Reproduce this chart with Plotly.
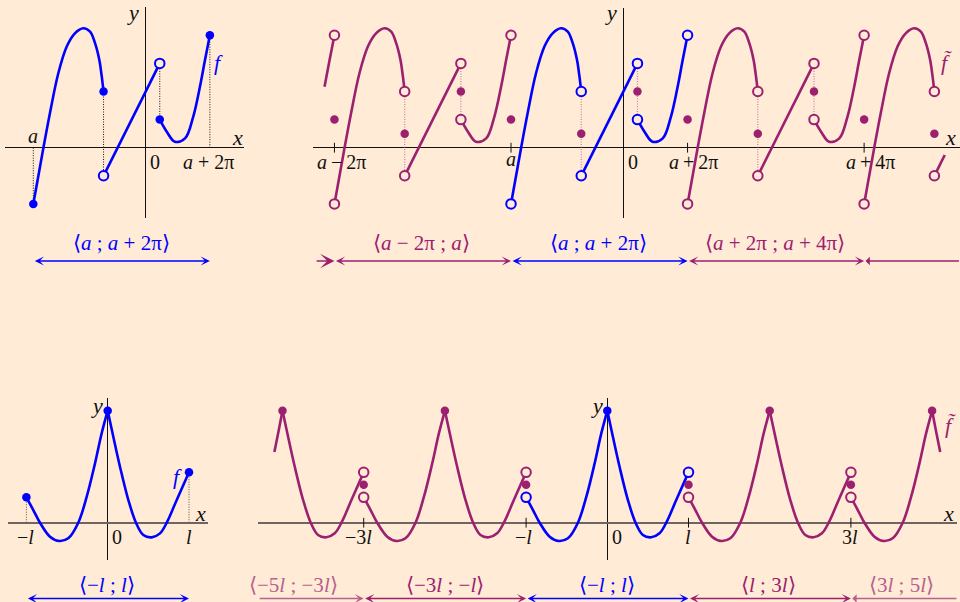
import numpy as np
import plotly.graph_objects as go

W, H = 960, 602
BG = "#FFEBD6"
BLUE = "#0000FF"
PURPLE = "#9C2070"
PURPLE_LIGHT = "#B8608F"
PURPLE_DOT = "#C77FA5"
BLACK = "#111111"
GRAY_AXIS = "#6F6560"
FONT = "Liberation Serif"
TICK_SIZE = 20
LAB_SIZE = 21

# ---------------- data: top row, f on <a ; a+2pi> ----------------
A = -4.0
T_TOP = 2 * np.pi
f1_x = [-4.0, -3.64, -3.41, -3.11, -2.81, -2.52, -2.22, -1.98, -1.80, -1.65, -1.57, -1.5]
f1_y = [-2.0, 0.0, 1.22, 2.65, 3.60, 4.07, 4.25, 4.13, 3.71, 3.12, 2.58, 2.0]
f2_x = [-1.5, 0.5]
f2_y = [-1.0, 3.0]
f3_x = [0.5, 0.75, 1.04, 1.40, 1.69, 1.93, 2.11, A + T_TOP]
f3_y = [1.0, 0.57, 0.21, 0.33, 1.10, 2.17, 3.12, 4.0]
f3_tail_start = 5            # visible tail of the copy left of a-2pi
f2_tail_x = [-1.5, -1.13]    # visible part of the last copy (right edge)
f2_tail_y = [-1.0, -0.26]
jump_x = [A, -1.5, 0.5]
jump_left = [4.0, 2.0, 3.0]
jump_right = [-2.0, -1.0, 1.0]
jump_mid = [1.0, 0.5, 2.0]
top_ticks_k = [-1, 0, 1, 2]
top_tick_labels = ["<i>a</i>\u2009\u2212\u20092π", "<i>a</i>", "<i>a</i>\u2009+\u20092π", "<i>a</i>\u2009+\u20094π"]

# ---------------- data: bottom row, g on <-l ; l> (l = 1) ----------------
L = 1.0
T_BOT = 2 * L
g1_x = [-1.0, -0.915, -0.833, -0.71, -0.595, -0.485, -0.362, -0.258, -0.156, -0.074, 0.0]
g1_y = [0.312, 0.156, 0.0, -0.172, -0.225, -0.192, 0.0, 0.32, 0.73, 1.10, 1.378]
g2_x = [0.0, 0.069, 0.151, 0.254, 0.348, 0.438, 0.541, 0.643, 0.726, 0.849, 1.0]
g2_y = [1.378, 1.058, 0.689, 0.279, 0.0, -0.151, -0.18, -0.131, 0.0, 0.279, 0.62]
g1_tail_x = [-0.10, -0.05, 0.0]
g1_tail_y = [0.87, 1.12, 1.378]
g2_tail_x = [0.0, 0.05, 0.10]
g2_tail_y = [1.378, 1.12, 0.87]
g_mid = 0.466
bot_ticks_x = [-3.0, -1.0, 1.0, 3.0]

# ---------------- panels (pixel boxes, origin, scale) ----------------
panels = {
    "TL": dict(n="", box=(5, 244, 7, 218), origin=(145.7, 147.7), s=28.1, hcol=BLACK, hw=1.2),
    "TR": dict(n="2", box=(313, 960, 8, 218), origin=(623.4, 147.7), s=28.1, hcol=BLACK, hw=1.2),
    "BL": dict(n="3", box=(8, 208, 398, 560), origin=(107.7, 522.7), s=81.3, hcol=GRAY_AXIS, hw=2),
    "BR": dict(n="4", box=(258, 957, 398, 560), origin=(607.3, 522.7), s=81.2, hcol=GRAY_AXIS, hw=2),
}

fig = go.Figure()
layout = dict(width=W, height=H, margin=dict(l=0, r=0, t=0, b=0), paper_bgcolor=BG,
              plot_bgcolor="rgba(0,0,0,0)", showlegend=False, annotations=[])

for p in panels.values():
    x0, x1, y0, y1 = p["box"]
    ox, oy = p["origin"]
    s = p["s"]
    n = p["n"]
    layout["xaxis" + n] = dict(domain=[x0 / W, x1 / W], range=[(x0 - ox) / s, (x1 - ox) / s],
                               anchor="y" + n, showgrid=False, showticklabels=False, ticks="",
                               zeroline=True, zerolinecolor=BLACK, zerolinewidth=1.2, showline=False,
                               fixedrange=True)
    layout["yaxis" + n] = dict(domain=[1 - y1 / H, 1 - y0 / H], range=[(oy - y1) / s, (oy - y0) / s],
                               anchor="x" + n, showgrid=False, showticklabels=False, ticks="",
                               zeroline=True, zerolinecolor=p["hcol"], zerolinewidth=p["hw"], showline=False,
                               fixedrange=True)


def ax(key):
    n = panels[key]["n"]
    return dict(xaxis="x" + n, yaxis="y" + n)


def curve(key, xs, ys, color, shift=0.0, width=2.6):
    fig.add_trace(go.Scatter(x=[v + shift for v in xs], y=ys, mode="lines",
                             line=dict(color=color, width=width, shape="spline", smoothing=1.0),
                             hoverinfo="skip", **ax(key)))


def dotted(key, x, ya, yb, color, width=1.0):
    fig.add_trace(go.Scatter(x=[x, x], y=[ya, yb], mode="lines",
                             line=dict(color=color, width=width, dash="1px,1.5px"),
                             hoverinfo="skip", **ax(key)))


def ticks(key, xs):
    fig.add_trace(go.Scatter(x=xs, y=[0] * len(xs), mode="markers",
                             marker=dict(symbol="line-ns", size=7, color=BLACK,
                                         line=dict(color=BLACK, width=1)),
                             hoverinfo="skip", **ax(key)))


markers = []  # (key, x, y, color, filled)


def dot(key, x, y, color, filled):
    markers.append((key, x, y, color, filled))


# ---------------- top-left panel ----------------
curve("TL", f1_x, f1_y, BLUE)
curve("TL", f2_x, f2_y, BLUE)
curve("TL", f3_x, f3_y, BLUE)
dotted("TL", f1_x[0], 0, f1_y[0], BLACK)
dotted("TL", f2_x[0], f1_y[-1], f2_y[0], BLACK)
dotted("TL", f3_x[0], f2_y[-1], f3_y[0], BLACK)
dotted("TL", f3_x[-1], 0, f3_y[-1], BLACK)
dot("TL", f1_x[0], f1_y[0], BLUE, True)
dot("TL", f1_x[-1], f1_y[-1], BLUE, True)
dot("TL", f2_x[0], f2_y[0], BLUE, False)
dot("TL", f2_x[-1], f2_y[-1], BLUE, False)
dot("TL", f3_x[0], f3_y[0], BLUE, True)
dot("TL", f3_x[-1], f3_y[-1], BLUE, True)

# ---------------- top-right panel (periodic extension) ----------------
for k in [-1, 0, 1]:
    c = BLUE if k == 0 else PURPLE
    sh = k * T_TOP
    for px_, py_ in [(f1_x, f1_y), (f2_x, f2_y), (f3_x, f3_y)]:
        curve("TR", px_, py_, c, sh)
        dot("TR", px_[0] + sh, py_[0], c, False)
        dot("TR", px_[-1] + sh, py_[-1], c, False)
# left tail (copy k=-2)
sh = -2 * T_TOP
curve("TR", f3_x[f3_tail_start:], f3_y[f3_tail_start:], PURPLE, sh)
dot("TR", f3_x[-1] + sh, f3_y[-1], PURPLE, False)
# right part (copy k=2)
sh = 2 * T_TOP
curve("TR", f1_x, f1_y, PURPLE, sh)
dot("TR", f1_x[0] + sh, f1_y[0], PURPLE, False)
dot("TR", f1_x[-1] + sh, f1_y[-1], PURPLE, False)
curve("TR", f2_tail_x, f2_tail_y, PURPLE, sh)
dot("TR", f2_tail_x[0] + sh, f2_tail_y[0], PURPLE, False)
# dotted jumps and mean values
for k in [-1, 0, 1]:
    for j in [1, 2]:
        dotted("TR", jump_x[j] + k * T_TOP, jump_left[j], jump_right[j], PURPLE_DOT, 1.2)
for k in [-1, 0, 1, 2]:
    for j in range(3):
        if k == 2 and j == 2:
            continue
        dot("TR", jump_x[j] + k * T_TOP, jump_mid[j], PURPLE, True)
ticks("TR", [A + k * T_TOP for k in top_ticks_k])

# ---------------- bottom-left panel ----------------
curve("BL", g1_x, g1_y, BLUE)
curve("BL", g2_x, g2_y, BLUE)
dotted("BL", g1_x[0], 0, g1_y[0], "#555555")
dotted("BL", g2_x[-1], 0, g2_y[-1], "#555555")
dot("BL", g1_x[0], g1_y[0], BLUE, True)
dot("BL", g1_x[-1], g1_y[-1], BLUE, True)
dot("BL", g2_x[-1], g2_y[-1], BLUE, True)

# ---------------- bottom-right panel ----------------
for k in [-1, 0, 1]:
    c = BLUE if k == 0 else PURPLE
    sh = k * T_BOT
    curve("BR", g1_x, g1_y, c, sh)
    curve("BR", g2_x, g2_y, c, sh)
    dot("BR", g1_x[0] + sh, g1_y[0], c, False)
    dot("BR", g2_x[-1] + sh, g2_y[-1], c, False)
    dot("BR", g1_x[-1] + sh, g1_y[-1], c, True)
sh = -2 * T_BOT
curve("BR", g1_tail_x, g1_tail_y, PURPLE, sh)
curve("BR", g2_x, g2_y, PURPLE, sh)
dot("BR", g2_x[-1] + sh, g2_y[-1], PURPLE, False)
dot("BR", g2_x[0] + sh, g2_y[0], PURPLE, True)
sh = 2 * T_BOT
curve("BR", g1_x, g1_y, PURPLE, sh)
curve("BR", g2_tail_x, g2_tail_y, PURPLE, sh)
dot("BR", g1_x[0] + sh, g1_y[0], PURPLE, False)
dot("BR", g1_x[-1] + sh, g1_y[-1], PURPLE, True)
for xv in bot_ticks_x:
    dot("BR", xv, g_mid, PURPLE, True)
ticks("BR", bot_ticks_x)

# draw markers last (open first, then filled)
for filled in [False, True]:
    for key in panels:
        for c in [BLUE, PURPLE]:
            pts = [(m[1], m[2]) for m in markers if m[0] == key and m[3] == c and m[4] == filled]
            if not pts:
                continue
            if filled:
                mk = dict(symbol="circle", size=8.5, color=c, line=dict(width=0))
            else:
                mk = dict(symbol="circle", size=9.5, color=BG, line=dict(color=c, width=2))
            fig.add_trace(go.Scatter(x=[p[0] for p in pts], y=[p[1] for p in pts], mode="markers",
                                     marker=mk, hoverinfo="skip", **ax(key)))

ann = layout["annotations"]


def txt(s, px, py, color=BLACK, size=TICK_SIZE):
    ann.append(dict(text=s, x=px / W, y=1 - py / H, xref="paper", yref="paper", showarrow=False,
                    xanchor="center", yanchor="middle", font=dict(family=FONT, size=size, color=color)))


def arrow(key, xa, xb, py, color, side="end+start", size=1.1):
    n = panels[key]["n"]
    ann.append(dict(text="", x=xb, y=1 - py / H, xref="x" + n, yref="paper",
                    ax=xa, ay=0, axref="x" + n, ayref="pixel", showarrow=True,
                    arrowhead=3, arrowside=side, arrowsize=size, arrowwidth=1.4, arrowcolor=color,
                    standoff=0, startstandoff=0))


# ---- top texts ----
txt("<i>a</i>", 33, 136)
txt("0", 155, 162)
txt("<i>a</i> + 2π", 208, 162)
txt("<i>x</i>", 237, 137, size=22)
txt("<i>y</i>", 133, 13, size=22)
txt("<i>f</i>", 218, 62, BLUE, size=22)
txt("⟨<i>a</i> ; <i>a</i> + 2π⟩", 121, 243, BLUE, LAB_SIZE)
arrow("TL", A, A + T_TOP, 261, BLUE)

tick_px = [341, 510.7, 693.5, 870]
tick_py = [162, 159, 162, 162]
for lab, px_, py_ in zip(top_tick_labels, tick_px, tick_py):
    txt(lab, px_, py_)
txt("0", 633, 162)
txt("<i>x</i>", 950, 137, size=22)
txt("<i>y</i>", 611, 13, size=22)
txt("<i>f\u0303</i>", 946, 62, PURPLE, size=22)
txt("⟨<i>a</i> \u2212 2π ; <i>a</i>⟩", 421.7, 243, PURPLE, LAB_SIZE)
txt("⟨<i>a</i> ; <i>a</i> + 2π⟩", 598, 243, BLUE, LAB_SIZE)
txt("⟨<i>a</i> + 2π ; <i>a</i> + 4π⟩", 775, 243, PURPLE, LAB_SIZE)
top_outer_left, top_outer_right = -10.97, 11.94
arrow("TR", top_outer_left, A - T_TOP, 261, PURPLE, side="end", size=1.7)
arrow("TR", A - T_TOP, A, 261, PURPLE)
arrow("TR", A, A + T_TOP, 261, BLUE)
arrow("TR", A + T_TOP, A + 2 * T_TOP, 261, PURPLE)
arrow("TR", A + 2 * T_TOP, top_outer_right, 261, PURPLE, side="start", size=1.7)

# ---- bottom texts ----
txt("<i>y</i>", 96.7, 405, size=22)
txt("<i>x</i>", 200, 513, size=22)
txt("<i>f</i>", 177, 476, BLUE, size=22)
txt("\u2212<i>l</i>", 25, 537)
txt("0", 117, 537)
txt("<i>l</i>", 189.3, 537)
txt("⟨\u2212<i>l</i> ; <i>l</i>⟩", 106.7, 585, BLUE, LAB_SIZE)
arrow("BL", -L, L, 598.5, BLUE)

txt("<i>y</i>", 596.7, 405, size=22)
txt("<i>x</i>", 948, 513, size=22)
txt("<i>f\u0303</i>", 950, 425, PURPLE, size=22)
for lab, px_ in zip(["\u22123<i>l</i>", "\u2212<i>l</i>", "<i>l</i>", "3<i>l</i>"], [358.3, 523.3, 688, 850]):
    txt(lab, px_, 537)
txt("0", 617.3, 537)
txt("⟨\u22125<i>l</i> ; \u22123<i>l</i>⟩", 293, 585, PURPLE_LIGHT, LAB_SIZE)
txt("⟨\u22123<i>l</i> ; \u2212<i>l</i>⟩", 445, 585, PURPLE, LAB_SIZE)
txt("⟨\u2212<i>l</i> ; <i>l</i>⟩", 607, 585, BLUE, LAB_SIZE)
txt("⟨<i>l</i> ; 3<i>l</i>⟩", 768, 585, PURPLE, LAB_SIZE)
txt("⟨3<i>l</i> ; 5<i>l</i>⟩", 901.7, 585, PURPLE_LIGHT, LAB_SIZE)
bot_outer_left, bot_outer_right = -4.30, 4.30
arrow("BR", bot_outer_left, -3 * L, 598.5, PURPLE_LIGHT, side="end")
arrow("BR", -3 * L, -L, 598.5, PURPLE)
arrow("BR", -L, L, 598.5, BLUE)
arrow("BR", L, 3 * L, 598.5, PURPLE)
arrow("BR", 3 * L, bot_outer_right, 598.5, PURPLE_LIGHT, side="start")

fig.update_layout(**layout)
fig.write_html(
    "out.html",
    config={"displayModeBar": False},
    post_script="document.body.style.margin='0';document.body.style.overflow='hidden';"
                "document.body.style.background='" + BG + "';",
)
